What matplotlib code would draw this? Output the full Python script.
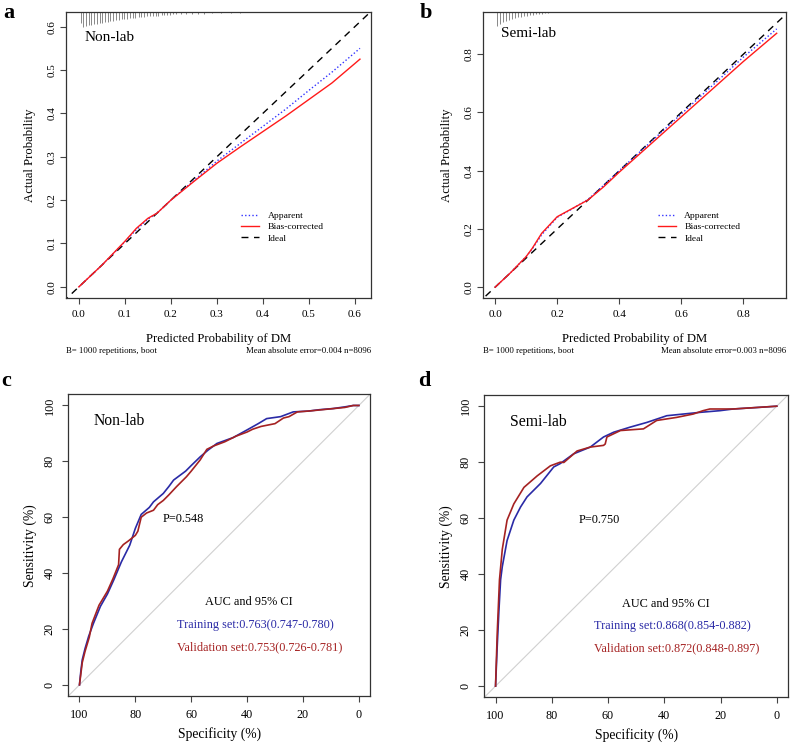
import matplotlib
matplotlib.use("Agg")
import matplotlib.pyplot as plt
import matplotlib.transforms as mtransforms

plt.rcParams['font.family'] = ['Liberation Serif', 'DejaVu Serif']

# ---------------- Calibration data ----------------
# Panel a (Non-lab)
cal_a_x = [0.0, 0.05, 0.1, 0.125, 0.15, 0.17, 0.2, 0.25, 0.3, 0.35, 0.4, 0.45, 0.5, 0.55, 0.6, 0.611]
cal_a_bias = [0.0, 0.05, 0.105, 0.135, 0.158, 0.17, 0.2, 0.243, 0.285, 0.322, 0.358, 0.394, 0.432, 0.47, 0.515, 0.525]
cal_a_app = [0.0, 0.05, 0.104, 0.132, 0.156, 0.17, 0.2, 0.245, 0.29, 0.33, 0.37, 0.41, 0.453, 0.495, 0.54, 0.55]
rug_a_x = [0.004, 0.010, 0.015, 0.021, 0.027, 0.033, 0.039, 0.046, 0.051, 0.057, 0.063, 0.068, 0.074,
           0.080, 0.087, 0.093, 0.099, 0.105, 0.111, 0.117, 0.123, 0.130, 0.136, 0.142, 0.148, 0.155,
           0.161, 0.167, 0.173, 0.180, 0.186, 0.192, 0.198, 0.204, 0.212, 0.222, 0.232, 0.245, 0.258,
           0.272, 0.290, 0.310, 0.330, 0.350]
rug_a_h = [11, 15, 14, 13, 12.5, 12, 11.5, 11, 10.5, 10, 9.5, 9, 8.5, 8, 7.5, 7, 6.8, 6.5, 6, 5.7,
           5.4, 5, 4.7, 4.4, 4.2, 4, 3.7, 3.5, 3.3, 3, 2.8, 2.6, 2.4, 2.2, 2, 2, 1.8, 1.6, 1.5,
           1.4, 1.2, 1.1, 1, 1]
# Panel b (Semi-lab)
cal_b_x = [0.0, 0.05, 0.1, 0.12, 0.15, 0.2, 0.25, 0.3, 0.35, 0.4, 0.5, 0.6, 0.7, 0.8, 0.9075]
cal_b_bias = [0.0, 0.05, 0.105, 0.134, 0.185, 0.242, 0.271, 0.3, 0.345, 0.395, 0.49, 0.585, 0.68, 0.775, 0.872]
cal_b_app = [0.0, 0.05, 0.105, 0.132, 0.18, 0.24, 0.27, 0.302, 0.35, 0.4, 0.497, 0.595, 0.692, 0.79, 0.887]
rug_b_x = [0.005, 0.015, 0.025, 0.034, 0.044, 0.054, 0.063, 0.073, 0.083, 0.092, 0.102, 0.112,
           0.121, 0.131, 0.141, 0.150, 0.160, 0.170]
rug_b_h = [14, 12, 10, 9, 8, 7, 6, 5, 4.5, 4, 3.5, 3, 2.5, 2, 2, 1.5, 1.2, 1]

# ---------------- ROC data (specificity %, sensitivity %) ----------------
roc_c_train_spec = [100, 99.5, 99, 98, 96.7, 95, 92.5, 90, 87.7, 85, 82, 80, 77.9, 75, 73.5, 70, 68,
                    66.3, 62, 60, 56.8, 54, 50.8, 45, 40.1, 36, 33, 28, 23.5, 18, 14, 9.2, 5, 2, 0]
roc_c_train_sens = [0, 5, 9, 13, 17.4, 22, 28.1, 32.5, 37.6, 44, 50, 56, 61, 63.5, 65.5, 68.5, 71,
                    73.3, 76.5, 78.5, 81.6, 84, 86.4, 88.5, 91.2, 93.5, 95.3, 96, 97.7, 98, 98.5, 98.9, 99.5, 100, 100]
roc_c_val_spec = [100, 99, 98, 96.5, 95.5, 93, 90, 88, 86, 85.7, 84.3, 82.5, 80, 79.1, 77.9, 76, 73.5, 72,
                  70, 68, 65.2, 61.7, 60, 58, 56.8, 54.4, 52, 48, 44, 40, 38, 35, 30, 27, 25, 22, 18,
                  15, 10, 5, 2, 0]
roc_c_val_sens = [0, 8, 12, 17, 22, 28.5, 33.5, 38, 43, 48.5, 50.2, 51.5, 53.5, 55, 60, 61.5, 62.5, 64.5,
                  66, 68, 71, 74.5, 76.5, 79, 80.5, 84.3, 85.5, 87, 89, 90.5, 91.5, 92.5, 93.5, 95.5, 96,
                  97.7, 98, 98.3, 98.8, 99.3, 100, 100]
roc_d_train_spec = [100, 99.4, 98.8, 98.2, 97.6, 95.9, 93.5, 91.1, 88.8, 84, 79.3, 77, 72.2, 66.3, 61.6,
                    58, 52.2, 46.2, 39.1, 33.2, 27.3, 20.2, 15.5, 6, 0]
roc_d_train_sens = [0, 14.3, 27, 38, 42.7, 52, 59.3, 64, 67.6, 72.4, 78.3, 79.5, 83, 85.4, 89,
                    90.7, 92.5, 94.2, 96.6, 97.2, 97.8, 98.4, 99, 99.6, 100]
roc_d_val_spec = [100, 99.4, 98.6, 97.6, 95.9, 93.5, 89.9, 85.2, 80.5, 77, 75.7, 71, 66.3, 61.6, 61, 60.4,
                  55.6, 47.4, 42.7, 35.6, 29.7, 26.2, 23.8, 15.5, 0]
roc_d_val_sens = [0, 19, 38, 48.9, 59.3, 65.1, 71, 75.1, 78.7, 80, 79.9, 84, 85.4, 86, 86.5, 89,
                  91.3, 91.9, 94.9, 96, 97.2, 98.4, 99, 99, 100]

spec_ticks = [100, 80, 60, 40, 20, 0]
sens_ticks = [0, 20, 40, 60, 80, 100]

BLUE = '#2a2aa6'
RED = '#a52222'
W, H = 790, 745

fig = plt.figure(figsize=(W / 100, H / 100), dpi=100)


def fr(l, t, r, b):
    return [l / W, 1 - b / H, (r - l) / W, (b - t) / H]


def style_axes(ax, pad=4):
    for s in ax.spines.values():
        s.set_linewidth(0.9)
        s.set_color('#333333')
    ax.tick_params(direction='out', length=4, width=0.8, color='#444444', labelsize=8, pad=pad)
    for lab in ax.get_yticklabels():
        lab.set_rotation(90)
        lab.set_va('center')


def calib(ax, x, app, bias, rx, rh, xlim, ylim, xticks, yticks, fmt):
    ax.set_xlim(*xlim)
    ax.set_ylim(*ylim)
    ax.plot([-1, 2], [-1, 2], color='black', ls=(0, (5, 4)), lw=1.0, label='Ideal', zorder=2)
    ax.plot(x, app, color='#3333ff', ls=(0, (1, 1.6)), lw=1.0, label='Apparent', zorder=3)
    ax.plot(x, bias, color='#ff1a1a', lw=1.0, label='Bias-corrected', zorder=4)
    trans = mtransforms.blended_transform_factory(ax.transData, ax.transAxes)
    axh = ax.get_position().height * H
    ax.vlines(rx, [1 - h / axh for h in rh], 1, transform=trans, color='#888888', lw=0.7)
    ax.set_xticks(xticks)
    ax.set_yticks(yticks)
    ax.set_xticklabels([fmt.format(v) for v in xticks])
    ax.set_yticklabels([fmt.format(v) for v in yticks])
    style_axes(ax, pad=5)
    ax.tick_params(axis='y', pad=3)
    ax.set_xlabel('Predicted Probability of DM', fontsize=9.2, labelpad=10)
    ax.set_ylabel('Actual Probability', fontsize=9.2, labelpad=8)
    h, l = ax.get_legend_handles_labels()
    order = [1, 2, 0]
    return [h[i] for i in order], [l[i] for i in order]


leg_kw = dict(loc='upper left', frameon=False, fontsize=6.8, handlelength=1.9, handletextpad=0.9,
              labelspacing=0.3, borderpad=0, borderaxespad=0)

# Panel a
ax_a = fig.add_axes(fr(66, 12.3, 371, 297.7))
hh, ll = calib(ax_a, cal_a_x, cal_a_app, cal_a_bias, rug_a_x, rug_a_h, (-0.028, 0.635), (-0.025, 0.633),
               [0.0, 0.1, 0.2, 0.3, 0.4, 0.5, 0.6], [0.0, 0.1, 0.2, 0.3, 0.4, 0.5, 0.6], '{:.1f}')
ax_a.text(0.06, 0.912, 'Non-lab', transform=ax_a.transAxes, fontsize=11, va='center')
ax_a.legend(hh, ll, bbox_to_anchor=(0.575, 0.303), **leg_kw)

# Panel b
ax_b = fig.add_axes(fr(483, 12.3, 786, 297.7))
hh, ll = calib(ax_b, cal_b_x, cal_b_app, cal_b_bias, rug_b_x, rug_b_h, (-0.039, 0.9375), (-0.036, 0.944),
               [0.0, 0.2, 0.4, 0.6, 0.8], [0.0, 0.2, 0.4, 0.6, 0.8], '{:.1f}')
ax_b.text(0.06, 0.925, 'Semi-lab', transform=ax_b.transAxes, fontsize=11, va='center')
ax_b.legend(hh, ll, bbox_to_anchor=(0.577, 0.303), **leg_kw)

for ax, mae in ((ax_a, '0.004'), (ax_b, '0.003')):
    p = ax.get_position()
    fig.text(p.x0, 1 - 351 / H, 'B= 1000 repetitions, boot', fontsize=6.3, ha='left', va='center')
    fig.text(p.x1, 1 - 351 / H, 'Mean absolute error=' + mae + ' n=8096', fontsize=6.3, ha='right',
             va='center')


def roc(ax, ts, tsn, vs, vsn, name, pval, tr_txt, va_txt):
    ax.set_xlim(104, -4)
    ax.set_ylim(-4, 104)
    ax.plot([104, -4], [-4, 104], color='#d0d0d0', lw=0.8)
    ax.plot(ts, tsn, color=BLUE, lw=1.2)
    ax.plot(vs, vsn, color=RED, lw=1.2)
    ax.set_xticks(spec_ticks)
    ax.set_yticks(sens_ticks)
    style_axes(ax, pad=5)
    ax.tick_params(labelsize=8.7)
    ax.set_xlabel('Specificity (%)', fontsize=9.8, labelpad=4.5)
    ax.set_ylabel('Sensitivity (%)', fontsize=9.8, labelpad=5)
    ax.text(95, 94.5, name, fontsize=11.3, va='center', ha='left')
    ax.text(70.3, 59.5, pval, fontsize=8.8, va='center', ha='left')
    ax.text(55, 29.5, 'AUC and 95% CI', fontsize=8.8, va='center', ha='left')
    ax.text(65.1, 21.3, tr_txt, fontsize=8.8, va='center', ha='left', color=BLUE)
    ax.text(65.1, 13.6, va_txt, fontsize=8.8, va='center', ha='left', color=RED)


ax_c = fig.add_axes(fr(68.3, 394.3, 370, 696))
roc(ax_c, roc_c_train_spec, roc_c_train_sens, roc_c_val_spec, roc_c_val_sens, 'Non-lab', 'P=0.548',
    'Training set:0.763(0.747-0.780)', 'Validation set:0.753(0.726-0.781)')
ax_d = fig.add_axes(fr(484.3, 395, 788, 697.3))
roc(ax_d, roc_d_train_spec, roc_d_train_sens, roc_d_val_spec, roc_d_val_sens, 'Semi-lab', 'P=0.750',
    'Training set:0.868(0.854-0.882)', 'Validation set:0.872(0.848-0.897)')

for lbl, x, y in (('a', 3, 13), ('b', 420, 13), ('c', 1, 381), ('d', 418, 381)):
    fig.text(x / W, 1 - y / H, lbl, fontsize=16, fontweight='bold', ha='left', va='center')

fig.savefig('out.png', dpi=100)
